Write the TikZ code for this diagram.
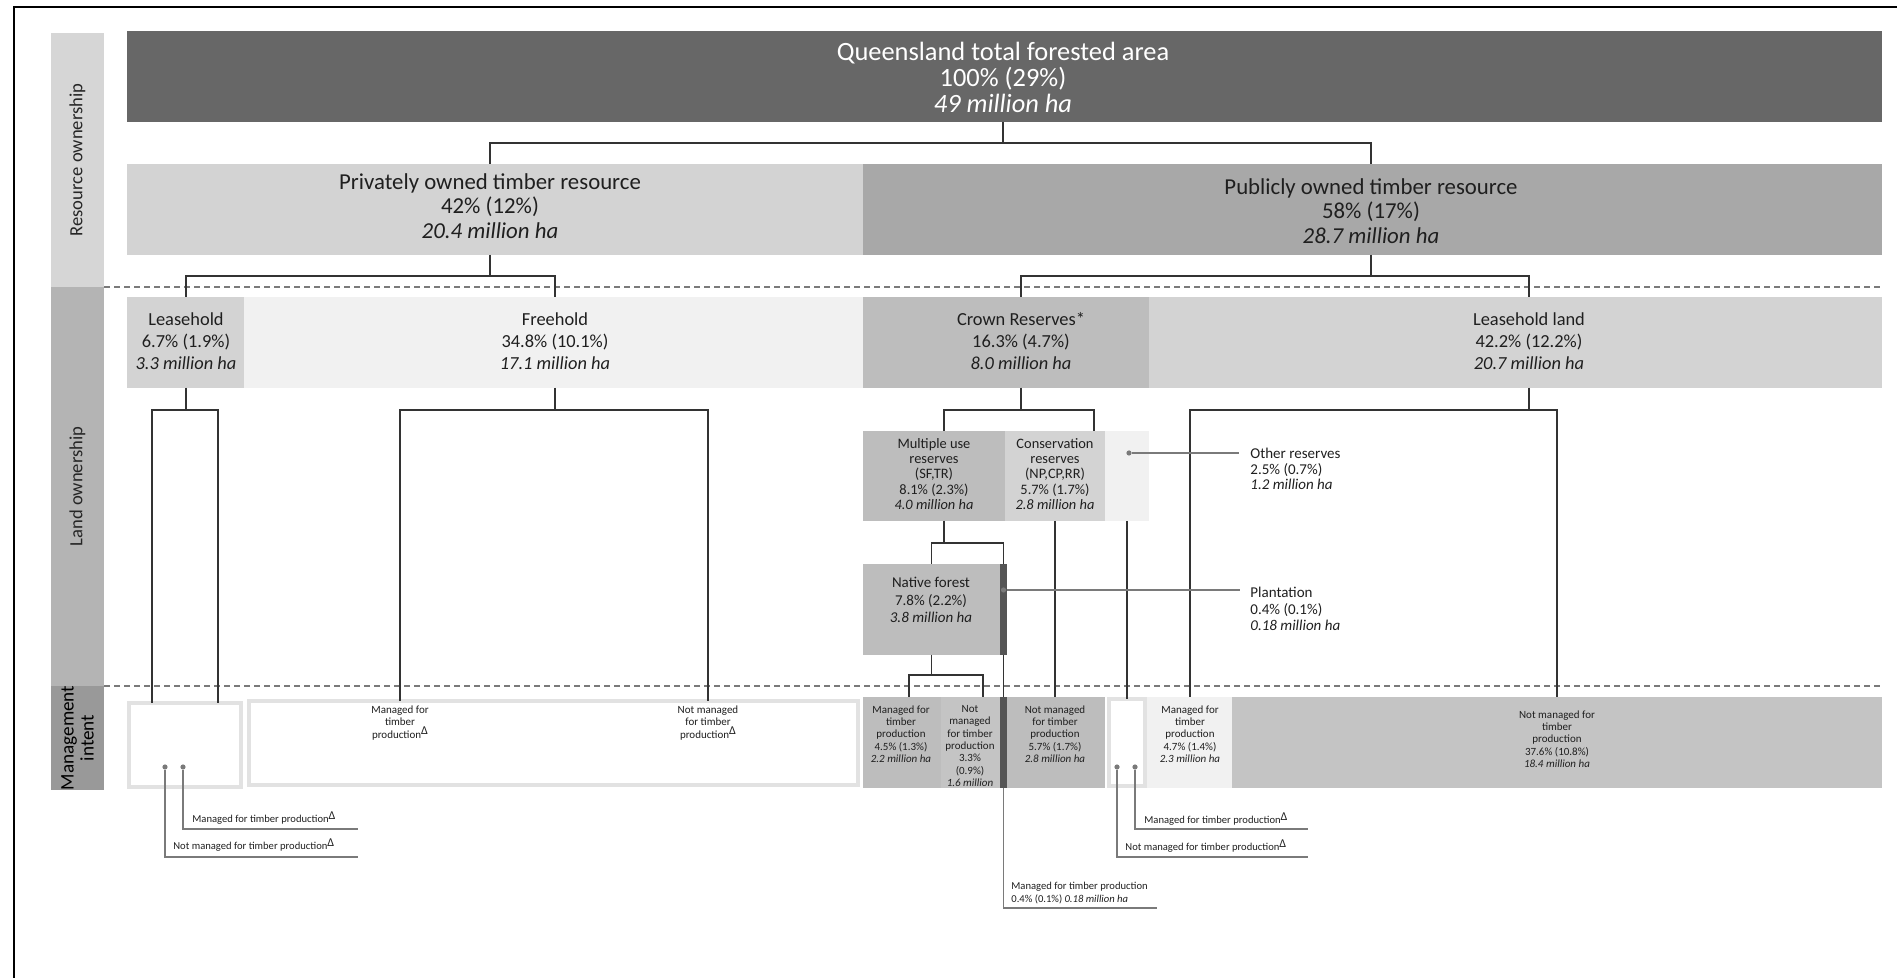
\documentclass[tikz,border=0pt]{standalone}
\usepackage{fontspec}
\setmainfont{Carlito}
\usepackage{tikz}
\usetikzlibrary{calc,fit,positioning}
\definecolor{tonetop}{HTML}{676767}
\definecolor{tonedark}{HTML}{A8A8A8}
\definecolor{tonemid}{HTML}{BDBDBD}
\definecolor{tonemidb}{HTML}{C4C4C4}
\definecolor{tonelight}{HTML}{D3D3D3}
\definecolor{tonepale}{HTML}{F1F1F1}
\definecolor{toneedge}{HTML}{E2E2E2}
\definecolor{tonebar}{HTML}{555555}
\definecolor{tonerule}{HTML}{7A7A7A}
\definecolor{toneline}{HTML}{333333}
\definecolor{sidea}{HTML}{D6D6D6}
\definecolor{sideb}{HTML}{B4B4B4}
\definecolor{sidec}{HTML}{999999}
\newcommand{\dmark}{\raisebox{0.7ex}{\fontsize{6}{6}\selectfont Δ}}

\begin{document}
\begin{tikzpicture}[x=0.5pt,y=-0.5pt,
  box/.style={inner sep=0pt,outer sep=0pt},
  hollow/.style={box,fill=white,draw=toneedge,line width=2pt},
  boxtxt/.style={align=center,inner sep=0pt,text=black!88},
  sidetxt/.style={rotate=90,align=center,text=black!85,font=\fontsize{9.3}{10}\selectfont},
  link/.style={draw=toneline,line width=0.7pt},
  sep/.style={draw=tonerule,line width=0.8pt,dash pattern=on 3pt off 2pt},
  callout/.style={draw=tonerule,line width=0.9pt},
  calldot/.style={circle,fill=tonerule,inner sep=0pt,minimum size=2.6pt},
  note/.style={align=left,inner sep=0pt,text=black!88,font=\fontsize{7.5}{8.4}\selectfont},
  calltxt/.style={align=left,inner sep=0pt,text=black!88,font=\fontsize{5.3}{6.2}\selectfont},
  smalltxt/.style={boxtxt,font=\fontsize{5.5}{6.15}\selectfont},
  fbig/.style={font=\fontsize{13.2}{13}\selectfont},
  fmid/.style={font=\fontsize{11.4}{12.2}\selectfont},
  fland/.style={font=\fontsize{9.2}{11}\selectfont},
  fsub/.style={font=\fontsize{7.2}{7.6}\selectfont}]
  \useasboundingbox (0,0) rectangle (1897,978);
  \draw[line width=1.1pt] (14,978) -- (14,7) -- (1897,7);

  % side labels
  \node[box,fill=sidea,fit={(51,33) (104,287)}] (labRes) {};
  \node[box,fill=sideb,fit={(51,287) (104,686)}] (labLand) {};
  \node[box,fill=sidec,fit={(51,686) (104,790)}] (labMan) {};
  \node[sidetxt] (labResT) at (labRes.center) {Resource ownership};
  \node[sidetxt] (labLandT) at (labLand.center) {Land ownership};
  \node[sidetxt,text=black,font=\fontsize{9.6}{10}\selectfont] (labManT) at (labMan.center) {Management\\intent};

  % resource ownership
  \node[box,fill=tonetop,fit={(127,31) (1882,122)}] (top) {};
  \node[box,fill=tonelight,fit={(127,164) (863,255)}] (priv) {};
  \node[box,fill=tonedark,fit={(863,164) (1882,255)}] (pub) {};
  \node[boxtxt,fbig,text=white!93] (topT) at (1003,77) {Queensland total forested area\\100\% (29\%)\\\textit{49 million ha}};
  \node[boxtxt,fmid] (privT) at (490,206) {Privately owned timber resource\\42\% (12\%)\\\textit{20.4 million ha}};
  \node[boxtxt,fmid] (pubT) at (1371,211) {Publicly owned timber resource\\58\% (17\%)\\\textit{28.7 million ha}};

  % land ownership
  \node[box,fill=tonelight,fit={(127,297) (244,388)}] (lh) {};
  \node[box,fill=tonepale,fit={(244,297) (863,388)}] (fh) {};
  \node[box,fill=tonemid,fit={(863,297) (1149,388)}] (crown) {};
  \node[box,fill=tonelight,fit={(1149,297) (1882,388)}] (lland) {};
  \node[boxtxt,fland] (lhT) at (186,341) {Leasehold\\6.7\% (1.9\%)\\\textit{3.3 million ha}};
  \node[boxtxt,fland] (fhT) at (555,341) {Freehold\\34.8\% (10.1\%)\\\textit{17.1 million ha}};
  \node[boxtxt,fland] (crownT) at (1021,341) {Crown Reserves*\\16.3\% (4.7\%)\\\textit{8.0 million ha}};
  \node[boxtxt,fland] (llandT) at (1529,341) {Leasehold land\\42.2\% (12.2\%)\\\textit{20.7 million ha}};

  \node[box,fill=tonemid,fit={(863,431) (1005,521)}] (mult) {};
  \node[box,fill=tonelight,fit={(1005,431) (1105,521)}] (cons) {};
  \node[box,fill=tonepale,fit={(1105,431) (1149,521)}] (oth) {};
  \node[boxtxt,fsub] (multT) at (934,474) {Multiple use\\reserves\\(SF,TR)\\8.1\% (2.3\%)\\\textit{4.0 million ha}};
  \node[boxtxt,fsub] (consT) at (1055,474) {Conservation\\reserves\\(NP,CP,RR)\\5.7\% (1.7\%)\\\textit{2.8 million ha}};
  \node[box,fill=tonemid,fit={(863,564) (1000,655)}] (native) {};
  \node[box,fill=tonebar,fit={(1000,564) (1007,655)}] (nbar) {};
  \node[boxtxt,font=\fontsize{7.5}{8.9}\selectfont] (nativeT) at (931,600) {Native forest\\7.8\% (2.2\%)\\\textit{3.8 million ha}};

  % management intent
  \node[hollow,fit={(129,703) (241,787)}] (lhm) {};
  \node[hollow,fit={(249,701) (858,785)}] (fhm) {};
  \node[box,fill=tonemid,fit={(863,697) (941,788)}] (cm) {};
  \node[box,fill=tonemidb,fit={(941,697) (1000,788)}] (cn) {};
  \node[box,fill=tonebar,fit={(1000,697) (1007,788)}] (mbar) {};
  \node[box,fill=tonemid,fit={(1007,697) (1105,788)}] (csm) {};
  \node[hollow,fit={(1109,699) (1145,786)}] (om) {};
  \node[box,fill=tonepale,fit={(1147,697) (1232,788)}] (llm) {};
  \node[box,fill=tonemidb,fit={(1232,697) (1882,788)}] (lln) {};

  \node[smalltxt] (fhA) at (400,723) {Managed for\\timber\\production\dmark};
  \node[smalltxt] (fhB) at (708,723) {Not managed\\for timber\\production\dmark};
  \node[smalltxt] (cmT) at (901,734) {Managed for\\timber\\production\\4.5\% (1.3\%)\\\textit{2.2 million ha}};
  \node[smalltxt] (cnT) at (970,746) {Not\\managed\\for timber\\production\\3.3\%\\(0.9\%)\\\textit{1.6 million}};
  \node[smalltxt] (csT) at (1055,734) {Not managed\\for timber\\production\\5.7\% (1.7\%)\\\textit{2.8 million ha}};
  \node[smalltxt] (llmT) at (1190,734) {Managed for\\timber\\production\\4.7\% (1.4\%)\\\textit{2.3 million ha}};
  \node[smalltxt] (llnT) at (1557,739) {Not managed for\\timber\\production\\37.6\% (10.8\%)\\\textit{18.4 million ha}};

  % level separators
  \draw[sep] (labRes.south east) -- (labRes.south east -| top.east);
  \draw[sep] (labLand.south east) -- (labLand.south east -| top.east);

  % tree
  \draw[link] (top.south -| topT) -- ++(0,21) -| (privT |- priv.north);
  \draw[link] (top.south -| topT) -- ++(0,21) -| (pubT |- pub.north);
  \draw[link] (privT |- priv.south) -- ++(0,21) -| (lhT |- lh.north);
  \draw[link] (privT |- priv.south) -- ++(0,21) -| (fhT |- fh.north);
  \draw[link] (pubT |- pub.south) -- ++(0,21) -| (crownT |- crown.north);
  \draw[link] (pubT |- pub.south) -- ++(0,21) -| (llandT |- lland.north);
  \draw[link] (crownT |- crown.south) -- ++(0,22) -| ($(mult.north)+(10,0)$);
  \draw[link] (crownT |- crown.south) -- ++(0,22) -| ($(cons.north)+(39,0)$);
  \draw[link] (lhT |- lh.south) -- ++(0,22) -| ($(lhm.north)+(-33,0)$);
  \draw[link] (lhT |- lh.south) -- ++(0,22) -| ($(lhm.north)+(33,0)$);
  \draw[link] (fhT |- fh.south) -- ++(0,22) -| (fhA |- fhm.north);
  \draw[link] (fhT |- fh.south) -- ++(0,22) -| (fhB |- fhm.north);
  \draw[link] (llandT |- lland.south) -- ++(0,22) -| (llmT |- llm.north);
  \draw[link] (llandT |- lland.south) -- ++(0,22) -| (llnT |- lln.north);
  \draw[link] (cons.south) -- (cons.south |- csm.north);
  \draw[link] (oth.south) -- (oth.south |- om.north);
  \draw[link] ($(mult.south)+(10,0)$) -- ++(0,22) -| (native.north);
  \draw[link] ($(mult.south)+(10,0)$) -- ++(0,22) -| (nbar.north);
  \draw[link] (native.south) -- ++(0,20) -| ($(cm.north)+(7,0)$);
  \draw[link] (native.south) -- ++(0,20) -| ($(cn.north)+(12.5,0)$);
  \draw[link] (nbar.south) -- (mbar.north);

  % callouts
  \node[calldot] (othdot) at (1129,453) {};
  \coordinate (othend) at (1239,453);
  \draw[callout] (othdot) -- (othend);
  \node[note,anchor=west,font=\fontsize{7.5}{7.9}\selectfont] (othT) at (1250,469) {Other reserves\\2.5\% (0.7\%)\\\textit{1.2 million ha}};

  \node[calldot] (pladot) at (1003.5,590) {};
  \coordinate (plaend) at (1240,590);
  \draw[callout] (pladot) -- (plaend);
  \node[note,anchor=west] (plaT) at (1250,609) {Plantation\\0.4\% (0.1\%)\\\textit{0.18 million ha}};

  \coordinate (pmend) at (1157,908);
  \draw[callout] (mbar.south) |- (pmend);
  \node[calltxt,anchor=west] (pmT) at (1011,893) {Managed for timber production\\0.4\% (0.1\%) \textit{0.18 million ha}};

  \node[calldot] (lhdA) at (165,767) {};
  \node[calldot] (lhdB) at (183,767) {};
  \coordinate (lhendA) at (358,857);
  \coordinate (lhendB) at (358,829);
  \draw[callout] (lhdA) |- (lhendA);
  \draw[callout] (lhdB) |- (lhendB);
  \node[calltxt,anchor=west] (lhTB) at (192,818) {Managed for timber production\dmark};
  \node[calltxt,anchor=west] (lhTA) at (173,845) {Not managed for timber production\dmark};

  \node[calldot] (omdA) at (1117,767) {};
  \node[calldot] (omdB) at (1135,767) {};
  \coordinate (omendA) at (1308,857);
  \coordinate (omendB) at (1308,829);
  \draw[callout] (omdA) |- (omendA);
  \draw[callout] (omdB) |- (omendB);
  \node[calltxt,anchor=west] (omTB) at (1144,819) {Managed for timber production\dmark};
  \node[calltxt,anchor=west] (omTA) at (1125,846) {Not managed for timber production\dmark};
\end{tikzpicture}
\end{document}
